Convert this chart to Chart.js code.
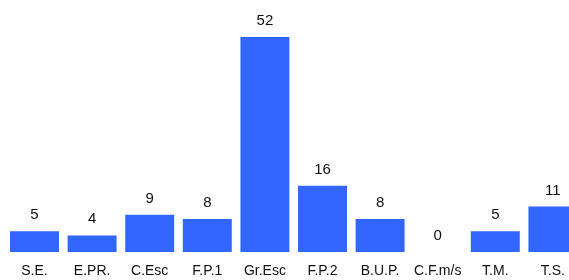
<!DOCTYPE html>
<html>
<head>
<meta charset="utf-8">
<script src="https://cdn.jsdelivr.net/npm/chart.js@4/dist/chart.umd.min.js"></script>
<style>
    html, body { margin: 0; padding: 0; overflow: hidden; background: #fff; }
    #wrap { width: 587px; height: 280px; }
</style>
</head>
<body>
<div id="wrap"><canvas id="chart" width="587" height="280"></canvas></div>
<script>
const categories = ['S.E.', 'E.PR.', 'C.Esc', 'F.P.1', 'Gr.Esc', 'F.P.2', 'B.U.P.', 'C.F.m/s', 'T.M.', 'T.S.'];
const values = [5, 4, 9, 8, 52, 16, 8, 0, 5, 11];

// draws the number above each bar
const valueLabels = {
    id: 'valueLabels',
    afterDatasetsDraw(chart) {
        const ctx = chart.ctx;
        const meta = chart.getDatasetMeta(0);
        ctx.save();
        ctx.font = '15px "Liberation Sans", Arial, sans-serif';
        ctx.fillStyle = '#111';
        ctx.textAlign = 'center';
        ctx.textBaseline = 'alphabetic';
        meta.data.forEach((bar, i) => {
            ctx.fillText(String(values[i]), bar.x, bar.y - 12);
        });
        ctx.restore();
    }
};

new Chart(document.getElementById('chart').getContext('2d'), {
    type: 'bar',
    data: {
        labels: categories,
        datasets: [{
            data: values,
            backgroundColor: '#3366ff',
            borderWidth: 0,
            categoryPercentage: 1,
            barPercentage: 0.85
        }]
    },
    options: {
        responsive: false,
        animation: false,
        layout: { padding: { top: 37, left: 5.7, right: 5.3, bottom: 0 } },
        plugins: {
            legend: { display: false },
            tooltip: { enabled: false }
        },
        scales: {
            x: {
                grid: { display: false, drawTicks: false },
                border: { display: false },
                ticks: {
                    color: '#111',
                    padding: 11,
                    maxRotation: 0,
                    autoSkip: false,
                    font: { family: '"Liberation Sans", Arial, sans-serif', size: 14 }
                },
                afterFit(scale) { scale.height = 28; }
            },
            y: {
                display: false,
                min: 0,
                max: 52
            }
        }
    },
    plugins: [valueLabels]
});
</script>
</body>
</html>
